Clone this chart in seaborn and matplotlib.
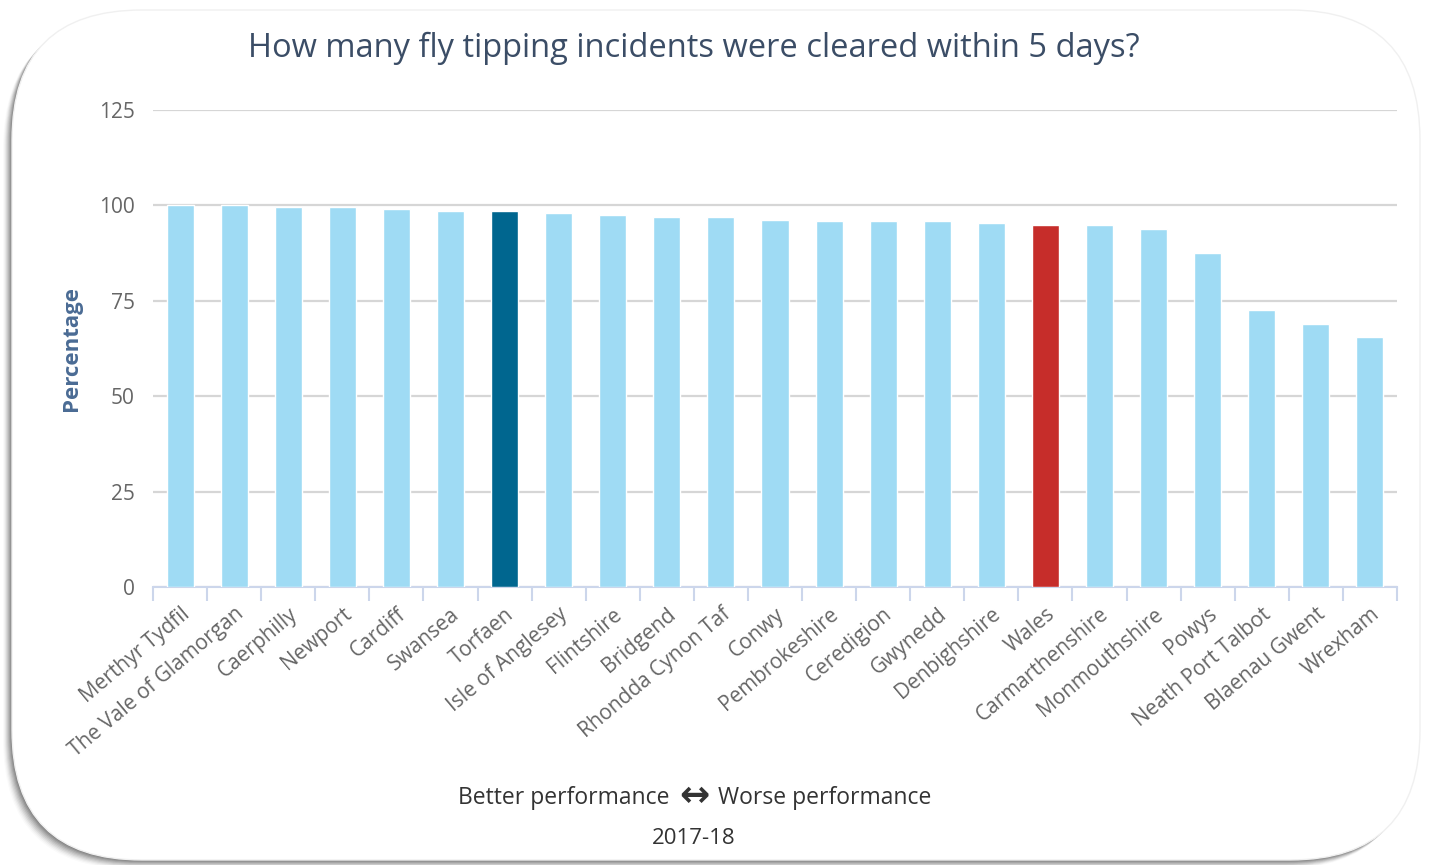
import numpy as np
import pandas as pd
import seaborn as sns
import matplotlib
matplotlib.use("Agg")
import matplotlib.pyplot as plt
from matplotlib.patches import FancyBboxPatch

# Chart data
areas = [
    "Merthyr Tydfil", "The Vale of Glamorgan", "Caerphilly", "Newport", "Cardiff",
    "Swansea", "Torfaen", "Isle of Anglesey", "Flintshire", "Bridgend",
    "Rhondda Cynon Taf", "Conwy", "Pembrokeshire", "Ceredigion", "Gwynedd",
    "Denbighshire", "Wales", "Carmarthenshire", "Monmouthshire", "Powys",
    "Neath Port Talbot", "Blaenau Gwent", "Wrexham",
]
percent_cleared = [
    100.0, 100.0, 99.7, 99.7, 99.0,
    98.5, 98.5, 98.0, 97.5, 96.9,
    96.9, 96.3, 95.8, 95.8, 95.8,
    95.3, 94.8, 94.8, 93.7, 87.5,
    72.5, 68.8, 65.5,
]
y_ticks = [0, 25, 50, 75, 100, 125]
highlight = {"Torfaen": "#00668f", "Wales": "#c62d2a"}
base_colour = "#9fdbf4"

df = pd.DataFrame({"area": areas, "pct": percent_cleared})
palette = {a: highlight.get(a, base_colour) for a in areas}

sns.set_theme(style="white")
plt.rcParams["font.family"] = ["Open Sans", "DejaVu Sans"]

W, H = 1430, 865
fig = plt.figure(figsize=(W / 100, H / 100), dpi=100)
fig.patch.set_facecolor("white")

# rounded card with a soft shadow on the left and bottom
bg = fig.add_axes([0, 0, 1, 1], zorder=0)
bg.set_xlim(0, W)
bg.set_ylim(H, 0)
bg.axis("off")
R = 130
for i, a in enumerate(np.linspace(0.12, 0.02, 9)):
    off = 1 + i
    bg.add_patch(FancyBboxPatch((12 + R - off, 10 + R + off), 1408 - 2 * R, 850 - 2 * R,
                                boxstyle=f"round,pad={R}", fc="black", ec="none", alpha=a))
bg.add_patch(FancyBboxPatch((12 + R, 10 + R), 1408 - 2 * R, 850 - 2 * R,
                            boxstyle=f"round,pad={R}", fc="white", ec="#f0f0f0", lw=1))

ax = fig.add_axes([153 / W, 1 - 587 / H, (1397 - 153) / W, (587 - 110) / H], zorder=1)
ax.set_facecolor("none")

sns.barplot(data=df, x="area", y="pct", hue="area", palette=palette,
            width=0.5, legend=False, saturation=1, ax=ax, zorder=3)

ax.set_xlim(-0.5, len(areas) - 0.5)
ax.set_ylim(0, 125)
ax.set_yticks(y_ticks)
ax.yaxis.grid(True, color="#d6d6d6", lw=1.6, zorder=0)
ax.set_axisbelow(True)

for s in ["top", "right", "left"]:
    ax.spines[s].set_visible(False)
ax.spines["bottom"].set_color("#ccd6eb")
ax.spines["bottom"].set_linewidth(1.5)

ax.tick_params(axis="y", length=0, labelsize=15, labelcolor="#666666", pad=13)
ax.set_xticks(range(len(areas)))
ax.set_xticks(np.arange(-0.5, len(areas), 1), minor=True)
ax.tick_params(axis="x", which="minor", length=10, width=1.5, color="#ccd6eb", bottom=True)
ax.tick_params(axis="x", which="major", length=0, pad=12)
ax.set_xticklabels(areas, rotation=40, ha="right", va="top", rotation_mode="anchor",
                   fontsize=15, color="#666666")

ax.set_xlabel("")
ax.set_ylabel("Percentage", fontsize=16, fontweight="bold", color="#4a6b94", labelpad=12)

fig.text(694 / W, 1 - 48 / H, "How many fly tipping incidents were cleared within 5 days?",
         ha="center", va="center", fontsize=23.5, color="#3b4d66")

fy = 1 - 798 / H
fig.text(670 / W, fy, "Better performance", ha="right", va="center", fontsize=16.5, color="#333333")
fig.text(694 / W, fy + 0.002, "\u2194", ha="center", va="center", fontsize=26, fontweight="bold",
         color="#333333", family=["DejaVu Sans"])
fig.text(718 / W, fy, "Worse performance", ha="left", va="center", fontsize=16.5, color="#333333")
fig.text(694 / W, 1 - 838 / H, "2017-18", ha="center", va="center", fontsize=16, color="#333333")

fig.savefig("out.png", dpi=100, facecolor="white")
